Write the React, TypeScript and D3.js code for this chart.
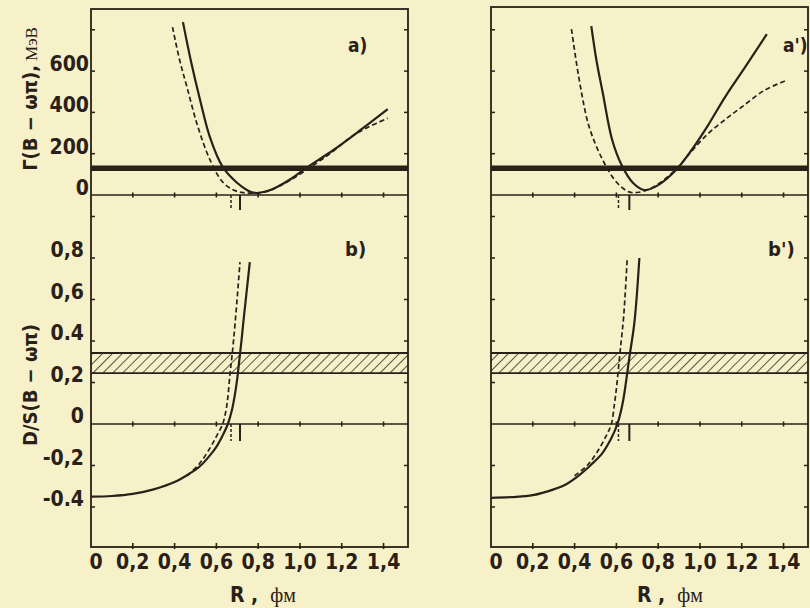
import React from 'react';
import * as d3 from 'd3';

type P = [number, number];

// ---- axis ticks / labels ----
const rTicks = [0, 0.2, 0.4, 0.6, 0.8, 1.0, 1.2, 1.4];
const rTickLabels = ['0', '0,2', '0,4', '0,6', '0,8', '1,0', '1,2', '1,4'];
const gammaTicks = [0, 200, 400, 600, 800];
const gammaTickLabels = ['0', '200', '400', '600', ''];
const dsTicks = [-0.4, -0.2, 0, 0.2, 0.4, 0.6, 0.8, 1.0];
const dsTickLabels = ['-0.4', '-0,2', '0', '0,2', '0.4', '0,6', '0,8', ''];

// ---- reference levels ----
const gammaLevel = 130; // MeV (thick line)
const dsBand: P = [0.245, 0.342];

// ---- left column (a, b) ----
const leftGammaSolid: P[] = [
  [0.44, 837], [0.48, 640], [0.522, 460], [0.569, 280], [0.63, 136], [0.70, 58],
  [0.75, 22], [0.785, 10], [0.84, 18], [0.89, 39], [0.96, 80], [1.03, 131],
  [1.16, 218], [1.29, 315], [1.42, 416],
];
const leftGammaDashed: P[] = [
  [0.39, 813], [0.425, 650], [0.46, 520], [0.51, 335], [0.57, 169], [0.63, 63], [0.68, 25],
  [0.72, 13], [0.78, 9], [0.85, 20], [0.93, 58], [1.03, 121], [1.15, 205],
  [1.25, 285], [1.33, 330], [1.42, 372],
];
const leftDsSolid: P[] = [
  [0, -0.35], [0.1, -0.347], [0.2, -0.337], [0.3, -0.315], [0.4, -0.28],
  [0.47, -0.24], [0.52, -0.205], [0.57, -0.15], [0.60, -0.11], [0.63, -0.055],
  [0.655, 0], [0.675, 0.07], [0.69, 0.15], [0.70, 0.22], [0.71, 0.31],
  [0.72, 0.40], [0.73, 0.50], [0.745, 0.64], [0.76, 0.78],
];
const leftDsDashed: P[] = [
  [0.46, -0.25], [0.52, -0.19], [0.57, -0.115], [0.60, -0.06], [0.63, 0],
  [0.645, 0.06], [0.655, 0.13], [0.665, 0.24], [0.675, 0.33], [0.69, 0.49],
  [0.713, 0.78],
];
const leftMarks = { dashed: 0.67, solid: 0.713 };

// ---- right column (a', b') ----
const rightGammaSolid: P[] = [
  [0.48, 818], [0.505, 650], [0.535, 494], [0.58, 266], [0.625, 145], [0.68, 58],
  [0.735, 24], [0.80, 48], [0.885, 121], [0.96, 218], [1.04, 340], [1.12, 474],
  [1.22, 625], [1.32, 779],
];
const rightGammaDashed: P[] = [
  [0.385, 803], [0.425, 542], [0.47, 329], [0.535, 169], [0.60, 63], [0.66, 15],
  [0.70, 12], [0.76, 30], [0.83, 75], [0.90, 140], [0.96, 212], [1.04, 298],
  [1.12, 365], [1.2, 426], [1.31, 508], [1.42, 557],
];
const rightDsSolid: P[] = [
  [0, -0.356], [0.1, -0.352], [0.2, -0.343], [0.3, -0.315], [0.36, -0.29],
  [0.424, -0.245], [0.48, -0.195], [0.533, -0.14], [0.575, -0.07], [0.605, 0],
  [0.63, 0.10], [0.652, 0.246], [0.662, 0.32], [0.686, 0.487], [0.71, 0.80],
];
const rightDsDashed: P[] = [
  [0.40, -0.25], [0.46, -0.2], [0.505, -0.14], [0.55, -0.06], [0.576, 0],
  [0.59, 0.09], [0.60, 0.17], [0.61, 0.27], [0.62, 0.37], [0.635, 0.52],
  [0.652, 0.80],
];
const rightMarks = { dashed: 0.61, solid: 0.662 };

const INK = '#2a2018';
const BG = '#f6f1c9';
const FONT = "'Liberation Sans Narrow', 'DejaVu Sans Condensed', 'Liberation Sans', sans-serif";

const W = 810, H = 608;
const Y0_A = 195; // zero line of panel a (also top of panel b)
const BOTTOM = 547;

const yA = d3.scaleLinear().domain([0, 900]).range([Y0_A, Y0_A - 900 * 0.2065]);
const yB = d3.scaleLinear().domain([0, 1]).range([424, 424 - 207.5]);

interface ColProps {
  x0: number; x1: number; top: number;
  gSolid: P[]; gDashed: P[]; dSolid: P[]; dDashed: P[];
  marks: { dashed: number; solid: number };
  labelA: string; labelB: string; labelAX: number; labelBX: number;
  showYLabels: boolean; xLabelX: number;
}

function Column(p: ColProps) {
  const x = d3.scaleLinear().domain([0, 1.517]).range([p.x0, p.x1]);
  const lineA = d3.line<P>().x(d => x(d[0])).y(d => yA(d[1])).curve(d3.curveCatmullRom.alpha(0.5));
  const lineB = d3.line<P>().x(d => x(d[0])).y(d => yB(d[1])).curve(d3.curveCatmullRom.alpha(0.5));
  const yBandTop = yB(dsBand[1]);
  const yBandBot = yB(dsBand[0]);
  return (
    <g>
      {/* frame */}
      <rect x={p.x0} y={p.top} width={p.x1 - p.x0} height={BOTTOM - p.top} fill="none" stroke={INK} strokeWidth={1.8} />
      {/* zero line of a (divider) */}
      <line x1={p.x0} x2={p.x1} y1={yA(0)} y2={yA(0)} stroke={INK} strokeWidth={1.6} />
      {/* zero line of b */}
      <line x1={p.x0} x2={p.x1} y1={yB(0)} y2={yB(0)} stroke={INK} strokeWidth={1.4} />
      {/* ticks on zero lines and bottom */}
      {rTicks.slice(1).map((t, i) => (
        <g key={'zt' + i}>
          <line x1={x(t)} x2={x(t)} y1={yA(0) - 2.5} y2={yA(0) + 2.5} stroke={INK} strokeWidth={1.6} />
          <line x1={x(t)} x2={x(t)} y1={yB(0) - 2.5} y2={yB(0) + 2.5} stroke={INK} strokeWidth={1.6} />
          <line x1={x(t)} x2={x(t)} y1={BOTTOM - 4} y2={BOTTOM + 2} stroke={INK} strokeWidth={1.6} />
        </g>
      ))}
      {/* y ticks on left and right axes */}
      {gammaTicks.slice(1).map((t, i) => (
        <g key={'ga' + i}>
          <line x1={p.x0} x2={p.x0 + 4} y1={yA(t)} y2={yA(t)} stroke={INK} strokeWidth={1.5} />
          <line x1={p.x1} x2={p.x1 - 4} y1={yA(t)} y2={yA(t)} stroke={INK} strokeWidth={1.5} />
        </g>
      ))}
      {dsTicks.filter(t => t !== 0).map((t, i) => (
        <g key={'db' + i}>
          <line x1={p.x0} x2={p.x0 + 4} y1={yB(t)} y2={yB(t)} stroke={INK} strokeWidth={1.5} />
          <line x1={p.x1} x2={p.x1 - 4} y1={yB(t)} y2={yB(t)} stroke={INK} strokeWidth={1.5} />
        </g>
      ))}
      {/* thick reference line in a */}
      <line x1={p.x0} x2={p.x1} y1={yA(gammaLevel)} y2={yA(gammaLevel)} stroke={INK} strokeWidth={5.5} />
      {/* hatched band in b */}
      <rect x={p.x0} y={yBandTop} width={p.x1 - p.x0} height={yBandBot - yBandTop} fill="url(#hatch)" stroke="none" />
      <line x1={p.x0} x2={p.x1} y1={yBandTop} y2={yBandTop} stroke={INK} strokeWidth={1.9} />
      <line x1={p.x0} x2={p.x1} y1={yBandBot} y2={yBandBot} stroke={INK} strokeWidth={1.9} />
      {/* curves */}
      <path d={lineA(p.gDashed) || ''} fill="none" stroke={INK} strokeWidth={1.7} strokeDasharray="5,3" />
      <path d={lineA(p.gSolid) || ''} fill="none" stroke={INK} strokeWidth={2.2} />
      <path d={lineB(p.dDashed) || ''} fill="none" stroke={INK} strokeWidth={1.7} strokeDasharray="5,3" />
      <path d={lineB(p.dSolid) || ''} fill="none" stroke={INK} strokeWidth={2.2} />
      {/* crossing marks */}
      <line x1={x(p.marks.dashed)} x2={x(p.marks.dashed)} y1={yA(0)} y2={yA(0) + 15} stroke={INK} strokeWidth={1.5} strokeDasharray="3,2" />
      <line x1={x(p.marks.solid)} x2={x(p.marks.solid)} y1={yA(0)} y2={yA(0) + 15} stroke={INK} strokeWidth={2} />
      <line x1={x(p.marks.dashed)} x2={x(p.marks.dashed)} y1={yB(0)} y2={yB(0) + 17} stroke={INK} strokeWidth={1.5} strokeDasharray="3,2" />
      <line x1={x(p.marks.solid)} x2={x(p.marks.solid)} y1={yB(0)} y2={yB(0) + 17} stroke={INK} strokeWidth={2} />
      {/* panel labels */}
      <text x={p.labelAX} y={52} fontFamily={FONT} fontWeight="bold" fontSize={19} fill={INK}>{p.labelA}</text>
      <text x={p.labelBX} y={256} fontFamily={FONT} fontWeight="bold" fontSize={20} fill={INK}>{p.labelB}</text>
      {/* x tick labels */}
      {rTicks.map((t, i) => (
        <text key={'xl' + i} x={x(t) + (i === 0 ? 5 : 0)} y={569} textAnchor="middle" fontFamily={FONT} fontWeight="bold" fontSize={21} fill={INK}>{rTickLabels[i]}</text>
      ))}
      {/* x axis label */}
      <text x={p.xLabelX} y={602} fontFamily={FONT} fontSize={21} fill={INK}>
        <tspan fontWeight="bold">R ,</tspan>
        <tspan dx={12} fontFamily="'Liberation Serif', 'DejaVu Serif', serif" fontSize={20}>фм</tspan>
      </text>
      {p.showYLabels && (
        <g>
          {gammaTicks.map((t, i) => gammaTickLabels[i] ? (
            <text key={'gl' + i} x={89} y={yA(t)} textAnchor="end" fontFamily={FONT} fontWeight="bold" fontSize={21} fill={INK}>{gammaTickLabels[i]}</text>
          ) : null)}
          {dsTicks.map((t, i) => dsTickLabels[i] ? (
            <text key={'dl' + i} x={84} y={yB(t) - 1} textAnchor="end" fontFamily={FONT} fontWeight="bold" fontSize={21} fill={INK}>{dsTickLabels[i]}</text>
          ) : null)}
          <text transform="translate(37,99) rotate(-90)" textAnchor="middle" fontFamily={FONT} fontSize={20} fill={INK}>
            <tspan fontWeight="bold">Γ(B − ωπ),</tspan>
            <tspan dx={4} fontFamily="'Liberation Serif', 'DejaVu Serif', serif" fontSize={17}>МэВ</tspan>
          </text>
          <text transform="translate(37,385) rotate(-90)" textAnchor="middle" fontFamily={FONT} fontWeight="bold" fontSize={20} fill={INK}>D/S(B − ωπ)</text>
        </g>
      )}
    </g>
  );
}

export default function App() {
  return (
    <svg width={W} height={H} style={{ position: 'absolute', left: 0, top: 0, display: 'block' }}>
      <defs>
        <pattern id="hatch" patternUnits="userSpaceOnUse" width={7} height={7} patternTransform="rotate(45)">
          <line x1={0} y1={0} x2={0} y2={7} stroke={INK} strokeWidth={1.5} />
        </pattern>
      </defs>
      <rect x={0} y={0} width={W} height={H} fill={BG} />
      <Column x0={91} x1={408} top={9}
        gSolid={leftGammaSolid} gDashed={leftGammaDashed}
        dSolid={leftDsSolid} dDashed={leftDsDashed}
        marks={leftMarks} labelA="a)" labelB="b)" labelAX={348} labelBX={345}
        showYLabels={true} xLabelX={230} />
      <Column x0={491} x1={808} top={7}
        gSolid={rightGammaSolid} gDashed={rightGammaDashed}
        dSolid={rightDsSolid} dDashed={rightDsDashed}
        marks={rightMarks} labelA="a')" labelB="b')" labelAX={783} labelBX={768}
        showYLabels={false} xLabelX={637} />
    </svg>
  );
}
